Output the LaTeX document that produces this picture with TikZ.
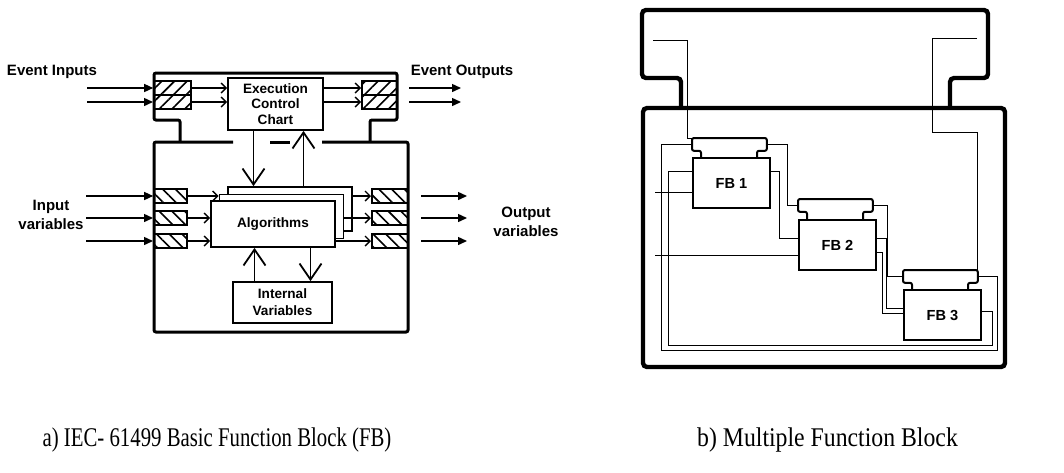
\documentclass[tikz,border=0pt]{standalone}
\usepackage{fontspec}
\setmainfont{Liberation Serif}
\newfontfamily\labelfont{Liberation Sans}
\usepackage{graphicx}
\usetikzlibrary{arrows.meta, positioning, calc, patterns.meta}

\begin{document}
\begin{tikzpicture}[x=0.5pt, y=-0.5pt,
  frame/.style={line width=1.5pt, rounded corners=1pt},
  outer/.style={line width=2.2pt, rounded corners=2pt},
  hatchev/.style={draw, line width=1pt, inner sep=0pt, minimum height=7pt, pattern={Lines[angle=45, distance=4.5pt, line width=0.8pt]}},
  hatchvar/.style={draw, line width=1pt, inner sep=0pt, minimum height=7pt, pattern={Lines[angle=-45, distance=4.5pt, line width=0.8pt]}},
  blk/.style={draw, line width=0.9pt, fill=white, inner sep=1pt, align=center, font=\labelfont\bfseries\fontsize{6.8}{7.6}\selectfont},
  lbl/.style={align=center, font=\labelfont\bfseries\fontsize{7.5}{9.5}\selectfont},
  ext/.style={-{Triangle[length=4.5pt, width=4pt]}, line width=0.7pt},
  int/.style={-{Straight Barb[length=2.5pt, width=5pt]}, line width=0.7pt},
  big/.style={-{Straight Barb[length=8pt, width=11pt, line width=0.9pt]}, line width=0.9pt},
  fbbody/.style={draw, line width=1pt, minimum width=38.5pt, minimum height=25pt, inner sep=0pt, anchor=north west, font=\labelfont\bfseries\fontsize{7.3}{8}\selectfont},
  fbhead/.style={minimum width=37pt, minimum height=6pt, inner sep=0pt, anchor=north west},
  fbline/.style={line width=1pt, rounded corners=1pt},
  wire/.style={line width=0.45pt},
  caption/.style={font=\fontsize{13.5}{15}\selectfont}
]
  \useasboundingbox (0,0) rectangle (1064,472);

  % a) basic function block
  \draw[frame] (180,142) |- (154,120) |- (397,73) |- (370,120) -- (370,142);
  \draw[frame] (233,142) -| (154,332) -| (408,142) -- (322,142);
  \draw[frame] (270,142) -- (290,142);

  \node[hatchev, minimum width=18.5pt] (ei1) at (172.5,88) {};
  \node[hatchev, minimum width=18.5pt] (ei2) at (172.5,102) {};
  \node[hatchev, minimum width=17.5pt] (eo1) at (379.5,88) {};
  \node[hatchev, minimum width=17.5pt] (eo2) at (379.5,102) {};
  \node[hatchvar, minimum width=16.5pt] (iv1) at (170.5,196) {};
  \node[hatchvar, minimum width=16.5pt] (iv2) at (170.5,218) {};
  \node[hatchvar, minimum width=16.5pt] (iv3) at (170.5,241) {};
  \node[hatchvar, minimum width=18pt] (ov1) at (390,196) {};
  \node[hatchvar, minimum width=18pt] (ov2) at (390,218) {};
  \node[hatchvar, minimum width=18pt] (ov3) at (390,241) {};

  \node[blk, minimum width=47.5pt, minimum height=26pt] (ecc) at (275.5,104) {Execution\\Control\\Chart};
  \node[blk, minimum width=62pt, minimum height=22pt] (alg3) at (290,209) {};
  \node[blk, minimum width=62pt, minimum height=22pt] (alg2) at (281.5,216.5) {};
  \node[blk, minimum width=62pt, minimum height=23pt] (alg) at (273,224) {Algorithms};
  \node[blk, minimum width=49.5pt, minimum height=20.5pt, font=\labelfont\bfseries\fontsize{6.8}{8.5}\selectfont] (ivar) at (282.5,302.5) {Internal\\Variables};

  \node[lbl] (evinlbl) at (52,72) {Event Inputs};
  \node[lbl] (evoutlbl) at (462,72) {Event Outputs};
  \node[lbl] (invlbl) at (51,215) {Input\\variables};
  \node[lbl] (outvlbl) at (526,222) {Output\\variables};

  % outside arrows
  \foreach \n in {ei1,ei2} \draw[ext] (\n.west) ++(-66,0) -- (\n.west);
  \foreach \n in {iv1,iv2,iv3} \draw[ext] (\n.west) ++(-67,0) -- (\n.west);
  \foreach \n in {eo1,eo2} \draw[ext] ([xshift=5.5pt]\n.east) -- ++(52,0);
  \foreach \n in {ov1,ov2,ov3} \draw[ext] ([xshift=6pt]\n.east) -- ++(46,0);

  % inside arrows
  \foreach \n in {ei1,ei2} \draw[int] (\n.east) -- (\n.east -| ecc.west);
  \foreach \n in {eo1,eo2} \draw[int] (ecc.east |- \n.west) -- (\n.west);
  \draw[int] (iv1.east) -- (iv1.east -| alg2.west);
  \draw[int] (iv2.east) -- (iv2.east -| alg.west);
  \draw[int] (iv3.east) -- (iv3.east -| alg.west);
  \draw[int] (alg3.east |- ov1.west) -- (ov1.west);
  \draw[int] (alg2.east |- ov2.west) -- (ov2.west);
  \draw[int] (alg.east |- ov3.west) -- (ov3.west);

  \draw[big] ([xshift=-11pt]ecc.south) -- ([xshift=-11pt]ecc.south |- alg3.north);
  \draw[big] ([xshift=14pt]ecc.south |- alg3.north) -- ([xshift=14pt]ecc.south);
  \draw[big] ([xshift=-14pt]ivar.north) -- ([xshift=-14pt]ivar.north |- alg.south);
  \draw[big] ([xshift=14pt]ivar.north |- alg.south) -- ([xshift=14pt]ivar.north);

  % b) multiple function blocks
  \draw[outer] (681,108) |- (642,78) |- (988,10) |- (950,78) -- (950,108);
  \draw[outer] (643,108) rectangle (1005,367);

  \node[fbhead] (fb1h) at (692,138) {};
  \node[fbbody] (fb1) at (692,157) {FB 1};
  \node[fbhead] (fb2h) at (798,199) {};
  \node[fbbody] (fb2) at (798,219) {FB 2};
  \node[fbhead] (fb3h) at (903,270) {};
  \node[fbbody] (fb3) at (903,289) {FB 3};
  \foreach \f in {fb1,fb2,fb3}
    \draw[fbline] ($(\f.north west)+(9,0)$) |- (\f h.south west) -- (\f h.north west) -- (\f h.north east) -- (\f h.south east) -| ($(\f.north west)+(65,0)$);

  \coordinate (evin) at (653,40);
  \coordinate (evout) at (977,38);
  \coordinate (in1) at (655,192);
  \coordinate (in2) at (655,255);
  \coordinate (evbus) at (661,350);
  \coordinate (dbus) at (668,345);

  \draw[wire] (evin) -- ++(34,0) |- (fb1h.north west);
  \draw[wire] (evout) -- ++(-45,0) -- ++(0,94) -| (fb3h.north east);
  \draw[wire] (in1) -- (in1 -| fb1.west);
  \draw[wire] (in2) -- (in2 -| fb2.west);
  \draw[wire] (fb1h.west) -| (evbus) -- ++(336,0) |- (fb3h.east);
  \draw[wire] ($(fb1.north west)+(0,14)$) -| (dbus) -- ++(324,0) |- ($(fb3.north east)+(0,22)$);
  \draw[wire] (fb1h.east) -- ++(21,0) |- (fb2h.west);
  \draw[wire] ($(fb1.north east)+(0,14)$) -- ++(8,0) |- ($(fb2.north west)+(0,19)$);
  \draw[wire] (fb2h.east) -- ++(15,0) |- (fb3h.west);
  \draw[wire] ($(fb2.north east)+(0,19)$) -- ++(9,0) |- ($(fb3.north west)+(0,19)$);
  \draw[wire] ($(fb2.north east)+(0,33)$) -- ++(5,0) |- ($(fb3.north west)+(0,24)$);

  % captions
  \node[caption] (capa) at (217,440) {\scalebox{0.77}[1]{a) IEC- 61499 Basic Function Block (FB)}};
  \node[caption] (capb) at (827.5,440) {\scalebox{0.88}[1]{b) Multiple Function Block}};
\end{tikzpicture}
\end{document}
